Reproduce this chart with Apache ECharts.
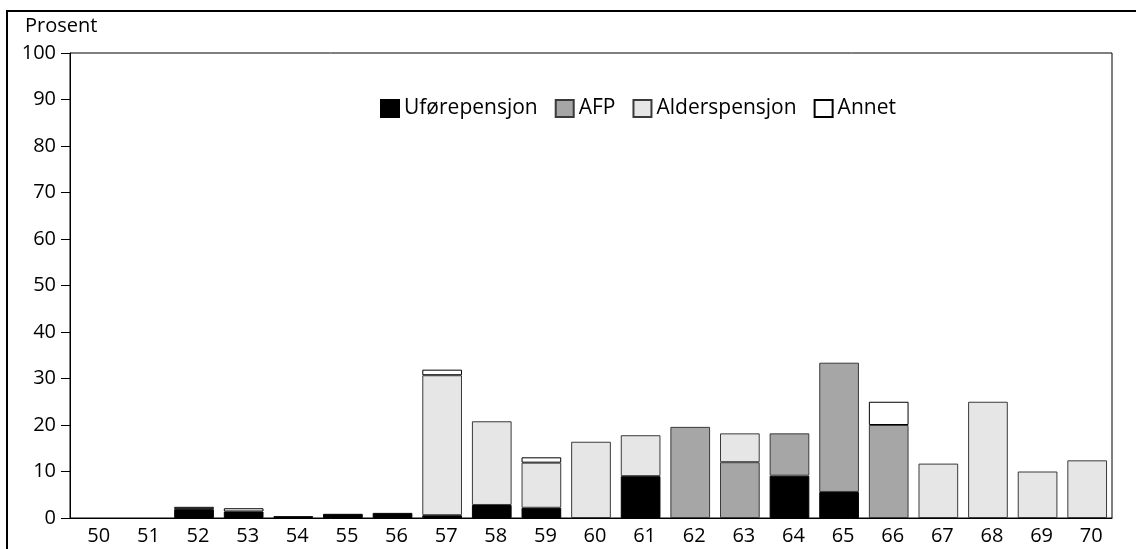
<!DOCTYPE html>
<html>
<head>
<meta charset="utf-8">
<script src="https://cdn.jsdelivr.net/npm/echarts@6/dist/echarts.min.js"></script>
<style>
  html, body { margin: 0; padding: 0; background: #fff; }
  #chart { width: 1136px; height: 549px; }
</style>
</head>
<body>
<div id="chart"></div>
<script>
// Age at exit (years) and share of each exit route, per cent
const ages = ['50','51','52','53','54','55','56','57','58','59','60','61','62','63','64','65','66','67','68','69','70'];
const uforepensjon = [0, 0, 1.9, 1.4, 0.4, 0.9, 1.1, 0.6, 2.8, 2.2, 0, 9.0, 0, 0, 9.1, 5.6, 0, 0, 0, 0, 0];
const afp          = [0, 0, 0, 0, 0, 0, 0, 0, 0, 0, 0, 0, 19.6, 12.0, 9.1, 27.8, 20.0, 0, 0, 0, 0];
const alderspensjon= [0, 0, 0, 0, 0, 0, 0, 30.1, 18.0, 9.7, 16.4, 8.8, 0, 6.2, 0, 0, 0, 11.7, 25.0, 10.0, 12.4];
const annet        = [0, 0, 0.5, 0.7, 0, 0, 0, 1.2, 0, 1.15, 0, 0, 0, 0, 0, 0, 5.0, 0, 0, 0, 0];
const yTicks = [0, 10, 20, 30, 40, 50, 60, 70, 80, 90, 100];

const FONT = 'Open Sans';
const chart = echarts.init(document.getElementById('chart'), null, { renderer: 'canvas' });

// Empty segments are left out so they draw no outline
function seriesOf(name, data, fill, border) {
  return {
    name: name,
    type: 'bar',
    stack: 'total',
    data: data.map(v => (v === 0 ? '-' : v)),
    barWidth: '80%',
    itemStyle: { color: fill, borderColor: border, borderWidth: 1 },
    emphasis: { disabled: true }
  };
}

chart.setOption({
  animation: false,
  backgroundColor: '#fff',
  textStyle: { fontFamily: FONT },
  graphic: [
    { type: 'rect', shape: { x: 7, y: 11, width: 1140, height: 560 },
      style: { fill: 'none', stroke: '#000', lineWidth: 2 }, z: -1 },
    { type: 'text', left: 25, top: 16,
      style: { text: 'Prosent', font: '20px "Open Sans"', fill: '#000' } }
  ],
  legend: {
    left: 375, top: 93,
    icon: 'rect',
    itemWidth: 18, itemHeight: 17, itemGap: 17,
    textStyle: { fontFamily: FONT, fontSize: 21, color: '#000' },
    data: ['Uførepensjon', 'AFP', 'Alderspensjon', 'Annet']
  },
  grid: {
    left: 70, top: 53, right: 24, bottom: 31,
    show: true, borderColor: '#000', borderWidth: 1, containLabel: false
  },
  xAxis: {
    type: 'category',
    data: ages,
    boundaryGap: true,
    axisLine: { lineStyle: { color: '#000', width: 1 } },
    axisTick: { show: false },
    axisLabel: { color: '#000', fontSize: 20, fontFamily: FONT, margin: 8, padding: [0, 0, 0, 8] }
  },
  yAxis: {
    type: 'value',
    min: yTicks[0], max: yTicks[yTicks.length - 1], interval: 10,
    splitLine: { show: false },
    axisLine: { show: true, lineStyle: { color: '#000', width: 1 } },
    axisTick: { show: true, length: 9, lineStyle: { color: '#000' } },
    axisLabel: { color: '#000', fontSize: 20, fontFamily: FONT, margin: 14 }
  },
  series: [
    seriesOf('Uførepensjon', uforepensjon, '#000000', '#000000'),
    seriesOf('AFP', afp, '#a6a6a6', '#3a3a3a'),
    seriesOf('Alderspensjon', alderspensjon, '#e6e6e6', '#3a3a3a'),
    seriesOf('Annet', annet, '#ffffff', '#000000')
  ]
});
</script>
</body>
</html>
